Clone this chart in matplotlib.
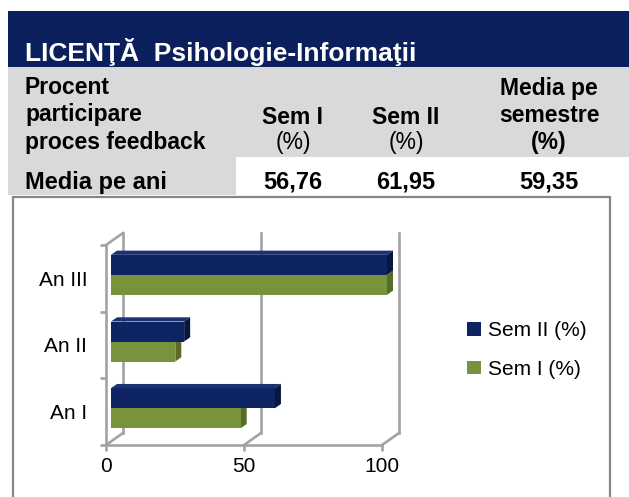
import matplotlib
matplotlib.use("Agg")
import matplotlib.pyplot as plt
from matplotlib.patches import Rectangle, Polygon, Patch
from matplotlib.transforms import offset_copy

plt.rcParams['font.family'] = ['Liberation Sans', 'DejaVu Sans']

# ---------------- data ----------------
title = "LICENŢĂ  Psihologie-Informaţii"
row_header = ["Procent", "participare", "proces feedback"]
col_headers = [("Sem I", "(%)", False), ("Sem II", "(%)", False),
               ("Media pe\nsemestre", "(%)", True)]
row_label = "Media pe ani"
row_values = ["56,76", "61,95", "59,35"]

categories = ["An I", "An II", "An III"]
sem1 = [47.0, 23.3, 100.0]
sem2 = [59.4, 26.5, 100.0]
series_labels = ["Sem I (%)", "Sem II (%)"]
xticks = [0, 50, 100]

NAVY = "#0B1F5C"
BAR_NAVY = "#0E2463"
BAR_NAVY_TOP = "#1A3274"
BAR_NAVY_SIDE = "#081640"
GREEN = "#77933C"
GREEN_SIDE = "#566C28"
GREY = "#D9D9D9"
WALL = "#A3A3A3"

W, H = 629, 497
fig = plt.figure(figsize=(W / 100, H / 100), dpi=100)

# ---------------- header / table (pixel canvas) ----------------
bg = fig.add_axes([0, 0, 1, 1])
bg.set_xlim(0, W)
bg.set_ylim(H, 0)
bg.axis('off')
bg.add_patch(Rectangle((8, 11), W - 8, 56, facecolor=NAVY, edgecolor='none'))
bg.add_patch(Rectangle((8, 67), W - 8, 90, facecolor=GREY, edgecolor='none'))
bg.add_patch(Rectangle((8, 157), 228, 38, facecolor=GREY, edgecolor='none'))
bg.text(25, 61, title, color='white', fontsize=19, fontweight='bold', va='baseline')

for i, line in enumerate(row_header):
    bg.text(25, 94 + i * 27.5, line, fontsize=16.5, fontweight='bold', va='baseline')

col_x = [293, 406, 549]
for (head, unit, bold_unit), cx in zip(col_headers, col_x):
    lines = head.split("\n")
    start = 149 - 27 * len(lines)
    for j, ln in enumerate(lines):
        bg.text(cx, start + 27 * (j + 0) + (0 if len(lines) == 2 else 2), ln,
                fontsize=16.5, fontweight='bold', ha='center', va='baseline')
    bg.text(cx, 149, unit, fontsize=16.5, fontweight='bold' if bold_unit else 'normal',
            ha='center', va='baseline')

bg.text(25, 189, row_label, fontsize=17, fontweight='bold', va='baseline')
for v, cx in zip(row_values, col_x):
    bg.text(cx, 189, v, fontsize=17, fontweight='bold', ha='center', va='baseline')

# chart frame
bg.plot([13, 13, 610, 610], [H + 5, 197, 197, H + 5], color="#868686", lw=1.6,
        solid_joinstyle='miter')

# ---------------- chart ----------------
AX_L, AX_R, AX_T, AX_B = 106, 382, 245, 445
ax = fig.add_axes([AX_L / W, 1 - AX_B / H, (AX_R - AX_L) / W, (AX_B - AX_T) / H])
ax.set_xlim(0, 100)
ax.set_ylim(-0.5, len(categories) - 0.5)
ax.patch.set_alpha(0)
PXX = (AX_R - AX_L) / 100.0
PXY = (AX_B - AX_T) / len(categories)

BACK = (17, 12)
BAR_OFF = (5, 3.5)
BAR_D = (6, 4.2)
bdx, bdy = BACK[0] / PXX, BACK[1] / PXY
ddx, ddy = BAR_D[0] / PXX, BAR_D[1] / PXY

lw = 1.9
for s in ['top', 'right']:
    ax.spines[s].set_visible(False)
for s in ['left', 'bottom']:
    ax.spines[s].set_color(WALL)
    ax.spines[s].set_linewidth(lw)

ymin, ymax = -0.5, len(categories) - 0.5
back_tr = offset_copy(ax.transData, fig=fig, x=BACK[0], y=BACK[1], units='dots')
for xv in xticks:
    ax.plot([xv, xv], [ymin, ymax], color=WALL, lw=lw, transform=back_tr,
            clip_on=False, zorder=1)
    ax.plot([xv, xv + bdx], [ymin, ymin + bdy], color=WALL, lw=lw, clip_on=False, zorder=1)
ax.plot([0, bdx], [ymax, ymax + bdy], color=WALL, lw=lw, clip_on=False, zorder=1)

bar_tr = offset_copy(ax.transData, fig=fig, x=BAR_OFF[0], y=BAR_OFF[1], units='dots')
ys = list(range(len(categories)))
hb = 0.3
ax.barh([y + hb / 2 for y in ys], sem2, height=hb, color=BAR_NAVY, transform=bar_tr,
        zorder=3, clip_on=False)
ax.barh([y - hb / 2 for y in ys], sem1, height=hb, color=GREEN, transform=bar_tr,
        zorder=3, clip_on=False)
for y, v1, v2 in zip(ys, sem1, sem2):
    yt = y + hb
    ax.add_patch(Polygon([(0, yt), (v2, yt), (v2 + ddx, yt + ddy), (ddx, yt + ddy)],
                         closed=True, facecolor=BAR_NAVY_TOP, edgecolor='none',
                         transform=bar_tr, zorder=3, clip_on=False))
    ax.add_patch(Polygon([(v2, y), (v2, yt), (v2 + ddx, yt + ddy), (v2 + ddx, y + ddy)],
                         closed=True, facecolor=BAR_NAVY_SIDE, edgecolor='none',
                         transform=bar_tr, zorder=3, clip_on=False))
    yb = y - hb
    ax.add_patch(Polygon([(v1, yb), (v1, y), (v1 + ddx, y + ddy), (v1 + ddx, yb + ddy)],
                         closed=True, facecolor=GREEN_SIDE, edgecolor='none',
                         transform=bar_tr, zorder=2.9, clip_on=False))

ax.set_yticks(ys, categories)
ax.set_yticks([y - 0.5 for y in ys] + [ymax], minor=True)
ax.tick_params(axis='y', which='major', length=0, pad=13.5, labelsize=15)
ax.tick_params(axis='y', which='minor', length=4.5, width=lw, color=WALL)
ax.set_xticks(xticks, [str(t) for t in xticks])
ax.tick_params(axis='x', which='major', length=4, width=lw, color=WALL, pad=5, labelsize=15)

fig.legend(handles=[Patch(facecolor=BAR_NAVY), Patch(facecolor=GREEN)],
           labels=[series_labels[1], series_labels[0]],
           loc='upper left', bbox_to_anchor=(467 / W, 1 - 321 / H), frameon=False,
           fontsize=15, handlelength=0.65, handleheight=0.65, handletextpad=0.35,
           labelspacing=0.95, borderpad=0, borderaxespad=0)

fig.savefig("out.png", dpi=100)
